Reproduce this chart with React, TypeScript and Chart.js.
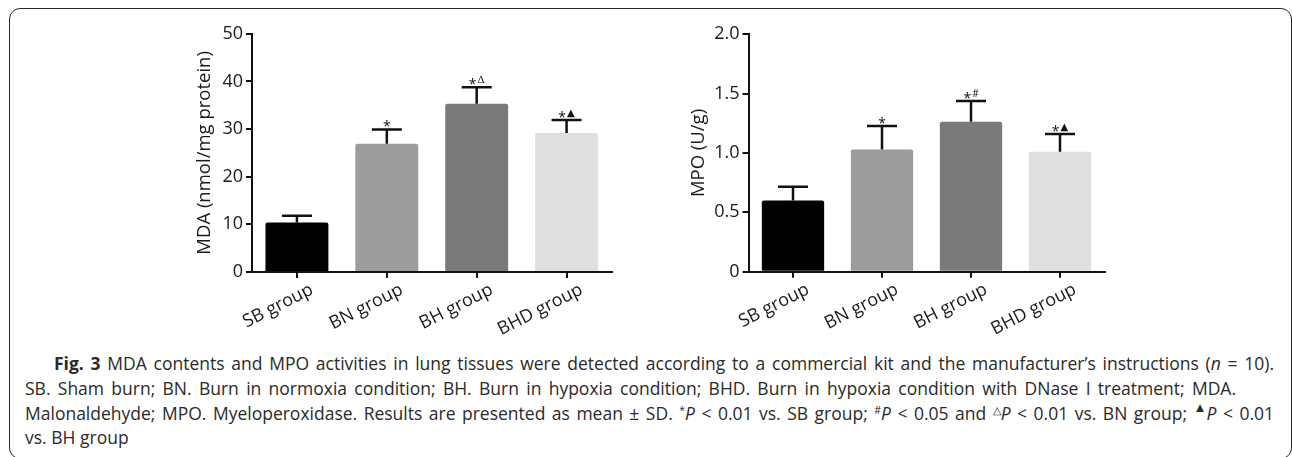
import React, { useEffect, useRef } from 'react';
import { Chart, registerables } from 'chart.js';

Chart.register(...registerables);

// ---- data ----
const groups = ['SB group', 'BN group', 'BH group', 'BHD group'];
const barColors = ['#000000', '#9c9c9c', '#7a7a7a', '#e0e0e0'];

const mdaMean = [10.4, 26.9, 35.3, 29.2];
const mdaSD = [1.4, 3.0, 3.5, 2.7];
const mdaStars = ['', '*', '*', '*'];
const mdaSymbols = ['', '', 'Δ', '▲'];
const mdaTickLabels = ['0', '10', '20', '30', '40', '50'];

const mpoMean = [0.6, 1.03, 1.263, 1.01];
const mpoSD = [0.115, 0.197, 0.175, 0.15];
const mpoStars = ['', '*', '*', '*'];
const mpoSymbols = ['', '', '#', '▲'];
const mpoTickLabels = ['0', '0.5', '1.0', '1.5', '2.0'];

const TICK_FONT = '"Open Sans", "Noto Sans", "DejaVu Sans", sans-serif';

function symbolFont(sym: string) {
  if (sym === 'Δ') return '11px "Liberation Serif", serif';
  if (sym === '▲') return '10px "DejaVu Sans", sans-serif';
  return '10px "Open Sans", sans-serif';
}

function makeErrorPlugin(sd: number[], stars: string[], syms: string[]) {
  return {
    id: 'errbars',
    afterDatasetsDraw(chart: any) {
      const meta = chart.getDatasetMeta(0);
      const ys = chart.scales.y;
      const ctx = chart.ctx as CanvasRenderingContext2D;
      const data = chart.data.datasets[0].data as number[];
      ctx.save();
      ctx.strokeStyle = '#111';
      ctx.lineWidth = 2.5;
      ctx.lineCap = 'butt';
      meta.data.forEach((bar: any, i: number) => {
        const x = bar.x;
        const top = ys.getPixelForValue(data[i]);
        const capY = ys.getPixelForValue(data[i] + sd[i]);
        ctx.beginPath();
        ctx.moveTo(x, top);
        ctx.lineTo(x, capY);
        ctx.moveTo(x - 15, capY);
        ctx.lineTo(x + 15, capY);
        ctx.stroke();

        ctx.fillStyle = '#111';
        ctx.textAlign = 'left';
        ctx.textBaseline = 'alphabetic';
        ctx.font = '14px ' + TICK_FONT;
        const sw = stars[i] ? ctx.measureText(stars[i]).width : 0;
        ctx.font = symbolFont(syms[i]);
        const yw = syms[i] ? ctx.measureText(syms[i]).width + 1 : 0;
        const sx = x - (sw + yw) / 2;
        if (stars[i]) {
          ctx.font = '14px ' + TICK_FONT;
          ctx.fillText(stars[i], sx, capY + 1.5);
        }
        if (syms[i]) {
          ctx.font = symbolFont(syms[i]);
          ctx.fillText(syms[i], sx + sw + 1, capY - 4);
        }
      });
      ctx.restore();
    },
  };
}

interface PanelProps {
  left: number;
  top: number;
  width: number;
  height: number;
  means: number[];
  sds: number[];
  stars: string[];
  syms: string[];
  max: number;
  step: number;
  tickLabels: string[];
  title: string;
  yWidth: number;
  xHeight: number;
  padTop: number;
  padRight: number;
  titleOffset: number;
}

function BarPanel(p: PanelProps) {
  const ref = useRef<HTMLCanvasElement | null>(null);
  useEffect(() => {
    if (!ref.current) return;
    const chart = new Chart(ref.current, {
      type: 'bar',
      data: {
        labels: groups,
        datasets: [
          {
            data: p.means,
            backgroundColor: barColors,
            borderWidth: 0,
            borderRadius: 2,
            barPercentage: 0.7,
            categoryPercentage: 1,
          },
        ],
      },
      options: {
        animation: false,
        responsive: true,
        maintainAspectRatio: false,
        layout: { padding: { left: 0, right: p.padRight, top: p.padTop, bottom: 0 } },
        plugins: { legend: { display: false }, tooltip: { enabled: false } },
        scales: {
          x: {
            type: 'category',
            offset: true,
            grid: {
              offset: false,
              drawOnChartArea: false,
              drawTicks: true,
              tickLength: 6,
              color: '#111',
              lineWidth: 2,
            },
            border: { display: true, color: '#111', width: 2 },
            ticks: {
              minRotation: 27,
              maxRotation: 27,
              padding: 1,
              labelOffset: 15,
              color: '#1a1a1a',
              font: { family: TICK_FONT, size: 18 },
            },
            afterFit: (s: any) => {
              s.height = p.xHeight;
            },
          },
          y: {
            min: 0,
            max: p.max,
            grid: {
              drawOnChartArea: false,
              drawTicks: true,
              tickLength: 6,
              color: '#111',
              lineWidth: 2,
            },
            border: { display: true, color: '#111', width: 2 },
            ticks: {
              stepSize: p.step,
              padding: 3,
              color: '#1a1a1a',
              font: { family: TICK_FONT, size: 18 },
              callback: (_v: any, i: number) => p.tickLabels[i],
            },
            title: {
              display: true,
              text: p.title,
              color: '#1a1a1a',
              font: { family: TICK_FONT, size: 18.5 },
              padding: { top: p.titleOffset, bottom: 0 },
            },
            afterFit: (s: any) => {
              s.width = p.yWidth;
            },
          },
        },
      } as any,
      plugins: [makeErrorPlugin(p.sds, p.stars, p.syms)],
    });
    return () => chart.destroy();
  }, []);
  return (
    <div
      style={{
        position: 'absolute',
        left: p.left,
        top: p.top,
        width: p.width,
        height: p.height,
      }}
    >
      <canvas ref={ref} />
    </div>
  );
}

const captionLeft = [54, 25, 25, 25];
const captionRight = [1274, 1236, 1274, 0];

function Caption() {
  const refs = useRef<(HTMLSpanElement | null)[]>([]);
  useEffect(() => {
    refs.current.forEach((el, i) => {
      if (!el || !captionRight[i]) return;
      el.style.wordSpacing = '0px';
      const w = el.getBoundingClientRect().width;
      const spaces = (el.textContent || '').split(' ').length - 1;
      const target = captionRight[i] - captionLeft[i];
      if (spaces > 0) el.style.wordSpacing = (target - w) / spaces + 'px';
    });
  }, []);
  const lineStyle = (i: number): React.CSSProperties => ({
    position: 'absolute',
    left: captionLeft[i],
    top: 351 + i * 24.8,
    whiteSpace: 'nowrap',
    lineHeight: '24.8px',
  });
  const sup: React.CSSProperties = { fontSize: '0.6em', verticalAlign: '0.6em', lineHeight: 0 };
  return (
    <div
      style={{
        fontFamily: '"Open Sans", "Noto Sans", sans-serif',
        fontSize: 17.5,
        color: '#2a2a2a',
      }}
    >
      <span style={lineStyle(0)} ref={(e) => { refs.current[0] = e; }}>
        <b>Fig. 3</b> MDA contents and MPO activities in lung tissues were detected according to a commercial kit and the manufacturer’s instructions (<i>n</i> = 10).
      </span>
      <span style={lineStyle(1)} ref={(e) => { refs.current[1] = e; }}>
        SB. Sham burn; BN. Burn in normoxia condition; BH. Burn in hypoxia condition; BHD. Burn in hypoxia condition with DNase I treatment; MDA.
      </span>
      <span style={lineStyle(2)} ref={(e) => { refs.current[2] = e; }}>
        Malonaldehyde; MPO. Myeloperoxidase. Results are presented as mean ± SD. <span style={sup}>*</span><i>P</i> &lt; 0.01 vs. SB group; <span style={sup}>#</span><i>P</i> &lt; 0.05 and <span style={sup}>△</span><i>P</i> &lt; 0.01 vs. BN group; <span style={{ ...sup, fontSize: '0.75em' }}>▲</span><i>P</i> &lt; 0.01
      </span>
      <span style={lineStyle(3)} ref={(e) => { refs.current[3] = e; }}>
        vs. BH group
      </span>
    </div>
  );
}

export default function App() {
  return (
    <div
      style={{
        position: 'absolute',
        left: 0,
        top: 0,
        width: 1292,
        height: 457,
        overflow: 'hidden',
        background: '#ffffff',
      }}
    >
      <div
        style={{
          position: 'absolute',
          left: 9,
          top: 8,
          width: 1283,
          height: 451,
          boxSizing: 'border-box',
          border: '1.6px solid #2a2a2a',
          borderRadius: 11,
        }}
      />
      <BarPanel
        left={150}
        top={20}
        width={470}
        height={320}
        means={mdaMean}
        sds={mdaSD}
        stars={mdaStars}
        syms={mdaSymbols}
        max={50}
        step={10}
        tickLabels={mdaTickLabels}
        title="MDA (nmol/mg protein)"
        yWidth={102}
        xHeight={68}
        padTop={13.3}
        padRight={8.5}
        titleOffset={44}
      />
      <BarPanel
        left={648}
        top={20}
        width={470}
        height={320}
        means={mpoMean}
        sds={mpoSD}
        stars={mpoStars}
        syms={mpoSymbols}
        max={2}
        step={0.5}
        tickLabels={mpoTickLabels}
        title="MPO (U/g)"
        yWidth={100.5}
        xHeight={68.3}
        padTop={14.3}
        padRight={13.5}
        titleOffset={40}
      />
      <Caption />
    </div>
  );
}
